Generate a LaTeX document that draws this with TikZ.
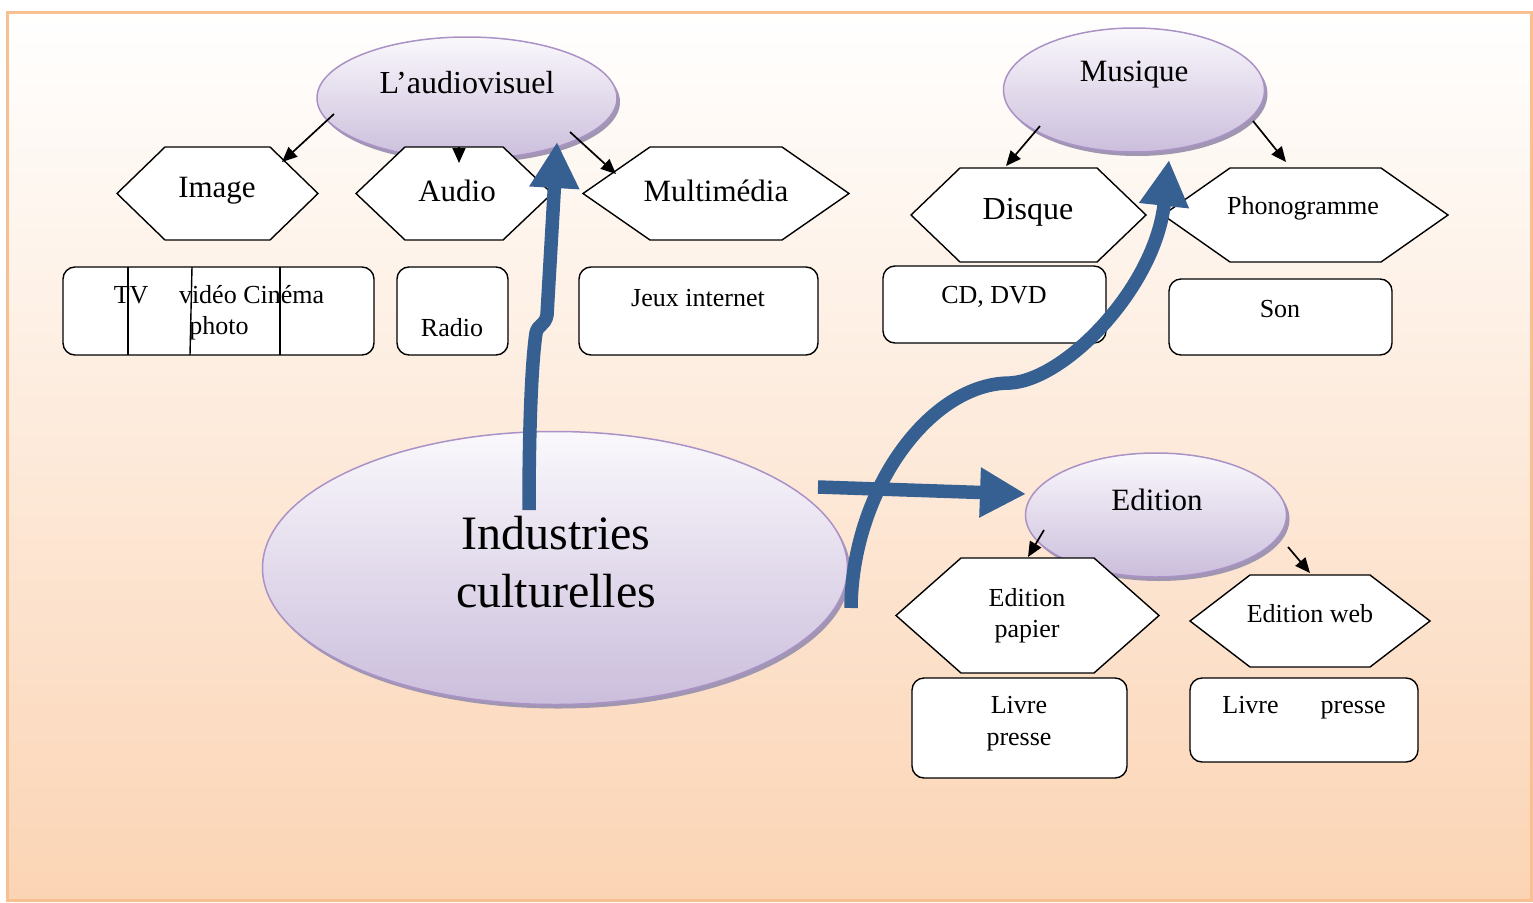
\documentclass[tikz,border=0pt]{standalone}
\usepackage{fontspec}
\setmainfont{Liberation Serif}
\usetikzlibrary{arrows.meta,shadows,shapes.geometric}
\definecolor{peach}{RGB}{251,212,180}
\definecolor{frameor}{RGB}{248,192,144}
\definecolor{lavtop}{RGB}{250,248,252}
\definecolor{lavbot}{RGB}{203,190,220}
\definecolor{lavline}{RGB}{170,146,198}
\definecolor{shadowc}{RGB}{160,150,178}
\definecolor{bluearr}{RGB}{54,96,145}
\tikzset{
 oval/.style={ellipse, draw=lavline, line width=1.5pt, top color=lavtop, bottom color=lavbot,
   drop shadow={shadow xshift=3pt, shadow yshift=-4pt, fill=shadowc, opacity=1}, inner sep=0pt},
 hexline/.style={draw=black, fill=white, line width=1.4pt, line join=miter},
 box/.style={draw=black, fill=white, line width=1.4pt, rounded corners=12pt, inner sep=0pt},
 lbl/.style={inner sep=0pt, align=center, text=black},
 blk/.style={-{Triangle[length=15pt,width=13pt]}, line width=1.7pt},
 bigarrow/.style={draw=bluearr, line width=13.5pt, -{Triangle[length=46pt,width=47pt]}},
}
% #1 name, #2 cx, #3 cy, #4 half width, #5 half height, #6 inset
\newcommand\hexshape[6]{%
 \draw[hexline] ({#2-#4},{#3}) -- ({#2-#4+#6},{#3-#5}) -- ({#2+#4-#6},{#3-#5}) -- ({#2+#4},{#3})
   -- ({#2+#4-#6},{#3+#5}) -- ({#2-#4+#6},{#3+#5}) -- cycle;
 \coordinate (#1) at (#2,#3);}
\begin{document}
\begin{tikzpicture}[x=1pt,y=-1pt]
\useasboundingbox (0,0) rectangle (1533,902);
% background
\fill[top color=white, bottom color=peach] (7,12) rectangle (1531,900);
\draw[frameor, line width=3pt] (7,12) rectangle (1531,900);

% ellipses
\node[oval, minimum width=300pt, minimum height=122pt] (av) at (467,98) {};
\node[lbl, font=\fontsize{32}{36}\selectfont] (avt) at (467,83) {L’audiovisuel};
\node[oval, minimum width=261pt, minimum height=124pt] (mu) at (1134,90) {};
\node[lbl, font=\fontsize{31}{36}\selectfont] (mut) at (1134,75) {Musique};
\node[oval, minimum width=261pt, minimum height=124pt] (ed) at (1156,515) {};
\node[lbl, font=\fontsize{31}{36}\selectfont] (edt) at (1157,500) {Edition};
\node[oval, minimum width=585pt, minimum height=273pt] (ic) at (555,568) {};
\node[lbl, font=\fontsize{48}{58}\selectfont] (ict) at (556,562) {Industries\\culturelles};

% hexagons
\hexshape{img}{217.5}{193.5}{100.5}{46.5}{48}
\node[lbl, font=\fontsize{31}{34}\selectfont] (imgt) at (217,191) {Image};
\hexshape{aud}{454}{193.5}{98}{46.5}{49}
\node[lbl, font=\fontsize{31}{34}\selectfont] (audt) at (457,191) {Audio};
\hexshape{mul}{716}{193.5}{133}{46.5}{67}
\node[lbl, font=\fontsize{31}{34}\selectfont] (mult) at (716,191) {Multimédia};
\hexshape{dis}{1028.5}{215}{117.5}{47}{49}
\node[lbl, font=\fontsize{32}{34}\selectfont] (dist) at (1028,212) {Disque};
\hexshape{pho}{1305.5}{215}{142.5}{47}{67}
\node[lbl, font=\fontsize{26}{30}\selectfont] (phot) at (1303,208) {Phonogramme};
\hexshape{edp}{1027.5}{615.5}{131.5}{57.5}{65}
\node[lbl, font=\fontsize{26}{31}\selectfont] (edpt) at (1027,616) {Edition\\papier};
\hexshape{edw}{1310}{621}{120}{46}{60}
\node[lbl, font=\fontsize{26}{30}\selectfont] (edwt) at (1310,614) {Edition web};

% boxes
\node[box, minimum width=311pt, minimum height=88pt] (tv) at (218.5,311) {};
\draw[line width=1.4pt] (128,267) -- (128,355);
\draw[line width=1.4pt] (192,267) -- (190,355);
\draw[line width=1.4pt] (280,267) -- (280,355);
\node[lbl, font=\fontsize{26}{31}\selectfont] (tvt) at (219,313) {TV\hspace{24pt} vidéo Cinéma\\photo};
\node[box, minimum width=111pt, minimum height=88pt] (ra) at (452.5,311) {};
\node[lbl, font=\fontsize{26}{30}\selectfont] (rat) at (452,328) {Radio};
\node[box, minimum width=239pt, minimum height=88pt] (je) at (698.5,311) {};
\node[lbl, font=\fontsize{26}{30}\selectfont] (jet) at (698,298) {Jeux internet};
\node[box, minimum width=223pt, minimum height=77pt] (cd) at (994.5,304.5) {};
\node[lbl, font=\fontsize{26}{30}\selectfont] (cdt) at (994,297) {CD, DVD};
\node[box, minimum width=223pt, minimum height=76pt] (so) at (1280.5,317) {};
\node[lbl, font=\fontsize{26}{30}\selectfont] (sot) at (1280,309) {Son};
\node[box, minimum width=215pt, minimum height=100pt] (l1) at (1019.5,728) {};
\node[lbl, font=\fontsize{26}{32}\selectfont] (l1t) at (1019,724) {Livre\\presse};
\node[box, minimum width=228pt, minimum height=84pt] (l2) at (1304,720) {};
\node[lbl, font=\fontsize{26}{30}\selectfont] (l2t) at (1304,708) {Livre\hspace{42pt}presse};

% small black arrows
\coordinate (a1) at (334,114); \coordinate (b1) at (282,162);
\coordinate (a2) at (459,147); \coordinate (b2) at (459,163);
\coordinate (a3) at (570,132); \coordinate (b3) at (616,174);
\coordinate (a4) at (1040,126); \coordinate (b4) at (1006,166);
\coordinate (a5) at (1253,121); \coordinate (b5) at (1286,162);
\coordinate (a6) at (1044,530); \coordinate (b6) at (1028,557);
\coordinate (a7) at (1288,547); \coordinate (b7) at (1310,573);
\foreach \i in {1,...,7} {\draw[blk] (a\i) -- (b\i);}

% big blue arrows
\coordinate (s1) at (529,510); \coordinate (t1) at (557,142);
\draw[bigarrow] (s1) .. controls (529,420) and (532,360) .. (536,333) .. controls (538,324) and (545,326) .. (547,315) -- (t1);
\coordinate (s2) at (851,608); \coordinate (t2) at (1169,160);
\draw[bigarrow] (s2) .. controls (852,490) and (930,383) .. (1010,383)
   .. controls (1065,380) and (1155,288) .. (t2);
\coordinate (s3) at (818,487); \coordinate (t3) at (1026,494);
\draw[bigarrow] (s3) -- (t3);
\end{tikzpicture}
\end{document}
